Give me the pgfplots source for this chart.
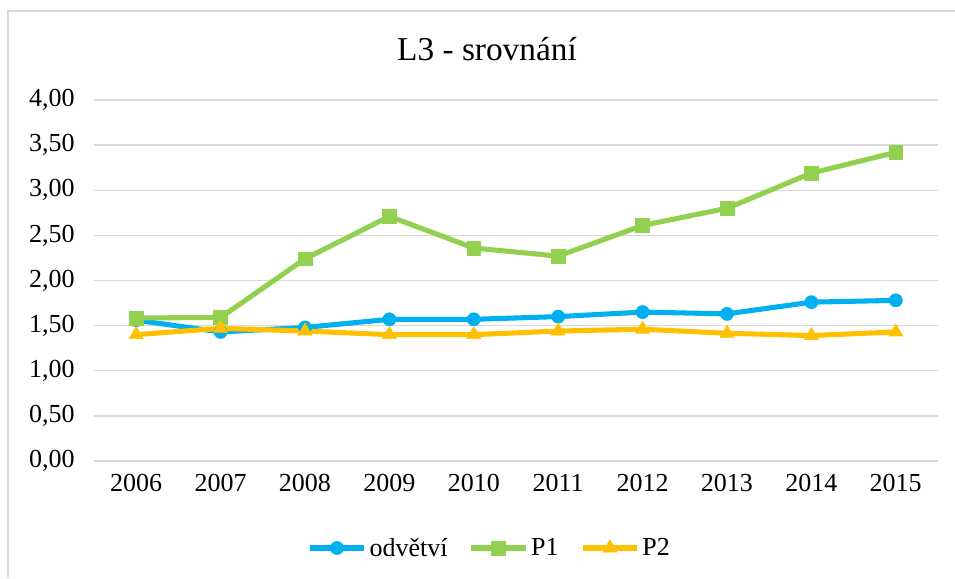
\documentclass[border=0pt]{standalone}
\usepackage{pgfplots}
\pgfplotsset{compat=1.18}
\usepackage{fontspec}
\setmainfont{Liberation Serif}
\definecolor{cblue}{HTML}{00B0F0}
\definecolor{cgreen}{HTML}{92D050}
\definecolor{corange}{HTML}{FFC000}
\definecolor{cgrid}{HTML}{D9D9D9}
\begin{document}
\begin{tikzpicture}
\useasboundingbox (0pt,0pt) rectangle (716.25pt,433.5pt);
\draw[cgrid,line width=1.2pt] (6pt,0pt) -- (6pt,425.25pt) -- (716.25pt,425.25pt);
\node[font=\fontsize{25}{30}\selectfont] at (365.25pt,396.75pt) {L3 - srovnání};
\begin{axis}[
  at={(70.5pt,87.75pt)}, anchor=south west,
  scale only axis, width=633pt, height=270.75pt,
  xmin=2005.5, xmax=2015.5, ymin=0, ymax=4,
  axis line style={draw=none},
  ymajorgrids, grid style={cgrid,line width=1.1pt},
  ytick={0,0.5,...,4},
  xtick={2006,...,2015},
  xticklabels={2006,2007,2008,2009,2010,2011,2012,2013,2014,2015},
  major tick length=0pt,
  ticklabel style={font=\fontsize{19.5}{23}\selectfont},
  yticklabel style={xshift=-11pt, /pgf/number format/fixed, /pgf/number format/fixed zerofill,
     /pgf/number format/precision=2, /pgf/number format/use comma, /pgf/number format/assume math mode=true},
  xticklabel style={yshift=-6pt},
  legend columns=3,
  legend style={at={(0.469,-0.241)}, anchor=center, draw=none, fill=none,
     font=\fontsize{19.5}{23}\selectfont,
     /tikz/every even column/.append style={column sep=14pt}},
  legend cell align=left,
  legend image code/.code={\draw[mark repeat=2,mark phase=2] plot coordinates {(0pt,0pt) (20.5pt,0pt) (41pt,0pt)};},
  every axis plot/.append style={line width=3.8pt},
]
\addplot[cblue, mark=*, mark size=4.9pt, mark options={solid,line width=0.5pt}] coordinates {
 (2006,1.56) (2007,1.43) (2008,1.48) (2009,1.57) (2010,1.57)
 (2011,1.60) (2012,1.65) (2013,1.63) (2014,1.76) (2015,1.78)};
\addlegendentry{odvětví}
\addplot[cgreen, mark=square*, mark size=5.2pt, mark options={solid,line width=0.5pt}] coordinates {
 (2006,1.585) (2007,1.59) (2008,2.24) (2009,2.71) (2010,2.36)
 (2011,2.27) (2012,2.61) (2013,2.80) (2014,3.19) (2015,3.42)};
\addlegendentry{P1}
\addplot[corange, mark=triangle*, mark size=6pt, mark options={solid,line width=0.5pt}] coordinates {
 (2006,1.40) (2007,1.47) (2008,1.44) (2009,1.40) (2010,1.40)
 (2011,1.44) (2012,1.46) (2013,1.415) (2014,1.39) (2015,1.43)};
\addlegendentry{P2}
\end{axis}
\end{tikzpicture}
\end{document}
